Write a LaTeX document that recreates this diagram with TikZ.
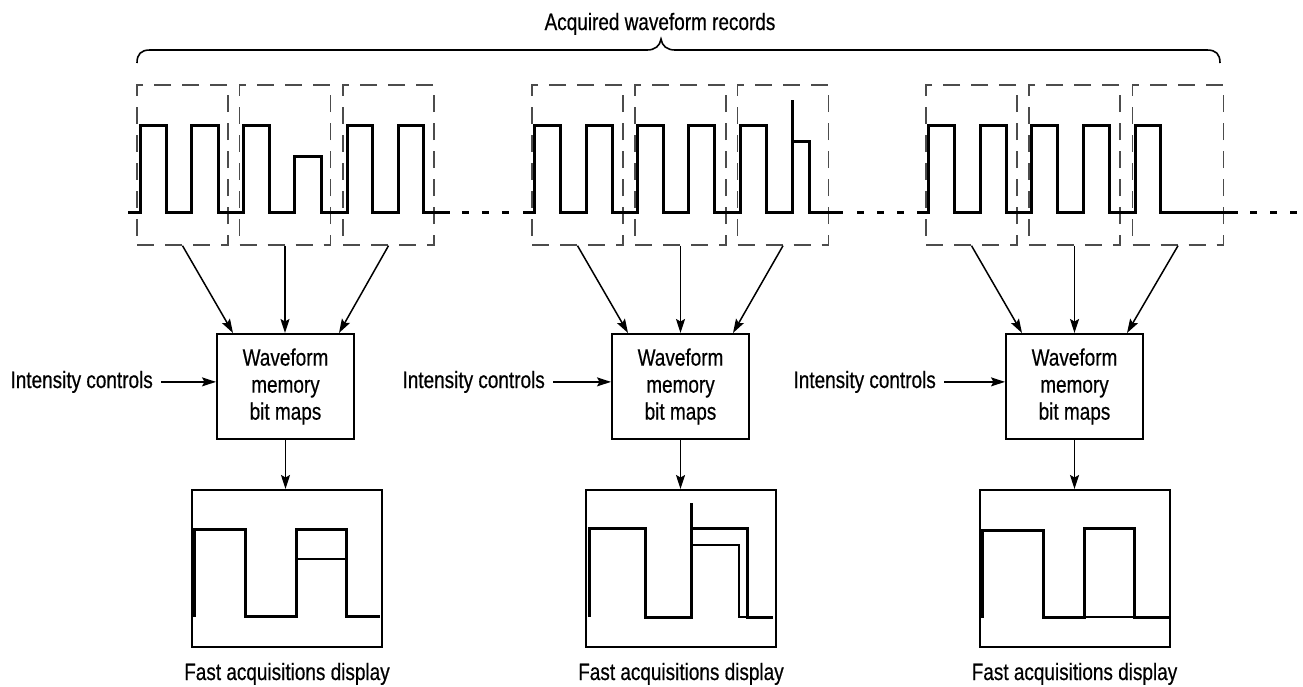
\documentclass[tikz,border=0pt]{standalone}
\usepackage{fontspec}
\setmainfont{Liberation Sans}[FakeStretch=0.8,FakeBold=0.5]
\usetikzlibrary{arrows.meta,calc}
\begin{document}
\begin{tikzpicture}[x=1pt,y=-1pt,
  every node/.style={font=\fontsize{23.7}{27}\selectfont},
  rec/.style={draw=black!70, dash pattern=on 17pt off 11pt, line width=1.4pt, minimum width=91pt, minimum height=160pt, inner sep=0pt},
  mem/.style={draw, line width=2pt, minimum width=137pt, minimum height=105pt, align=center, inner sep=0pt},
  disp/.style={draw, line width=2pt, minimum width=190pt, minimum height=157pt, inner sep=0pt},
  arr/.style={-{Stealth[length=14pt,width=9pt,inset=2.5pt]}, line width=1.5pt},
  wave/.style={line width=3pt, line join=miter},
  thinwave/.style={line width=1.2pt},
  link/.style={line width=3pt, dash pattern=on 7pt off 13pt},
  lbl/.style={anchor=base, inner sep=0pt},
]
\useasboundingbox (0,0) rectangle (1303,686);

% title and brace
\node[lbl] (title) at (660,30) {Acquired waveform records};
\draw[line width=1.6pt] (137,63) .. controls (137,54) and (141,50) .. (150,50) -- (647,50)
  .. controls (655,50) and (660,46) .. (661,39) .. controls (662,46) and (667,50) .. (675,50)
  -- (1207,50) .. controls (1216,50) and (1220,54) .. (1220,63);

% dashed record boxes
\node[rec] (r11) at (182.5,165) {};
\node[rec] (r12) at (285,165) {};
\node[rec] (r13) at (388.5,165) {};
\node[rec] (r21) at (577.5,165) {};
\node[rec] (r22) at (680.5,165) {};
\node[rec] (r23) at (783,165) {};
\node[rec] (r31) at (971.5,165) {};
\node[rec] (r32) at (1074.5,165) {};
\node[rec] (r33) at (1178,165) {};

% acquired waveforms
\draw[wave] (128,212) -- (140,212) |- (166,125) |- (191,212) |- (218,125) |- (243,212) |- (269,125)
  |- (294,212) |- (321,156) |- (347,212) |- (372,125) |- (398,212) |- (423,125) |- (450,212);
\draw[link] (462,212) -- (520,212);
\draw[wave] (523,212) -- (534,212) |- (560,125) |- (586,212) |- (612,125) |- (637,212) |- (663,125)
  |- (688,212) |- (714,125) |- (740,212) |- (766,125) |- (792,212) -- (792,100);
\draw[wave] (792,141) -| (809,212) -- (843,212);
\draw[link] (857,212) -- (916,212);
\draw[wave] (917,212) -- (928,212) |- (954,125) |- (980,212) |- (1006,125) |- (1031,212) |- (1057,125)
  |- (1083,212) |- (1109,125) |- (1135,212) |- (1160,125) |- (1238,212);
\draw[link] (1250,212) -- (1303,212);

% memory boxes
\node[mem] (m1) at (285.5,386.5) {Waveform\\memory\\bit maps};
\node[mem] (m2) at (680.5,386.5) {Waveform\\memory\\bit maps};
\node[mem] (m3) at (1074.5,386.5) {Waveform\\memory\\bit maps};

% arrows records -> memory
\draw[arr] (r11.south) -- ($(m1.north)+(-52.5,0)$);
\draw[arr] (r12.south) -- (r12.south |- m1.north);
\draw[arr] (r13.south) -- ($(m1.north)+(53.5,0)$);
\draw[arr] (r21.south) -- ($(m2.north)+(-52.5,0)$);
\draw[arr] (r22.south) -- (m2.north);
\draw[arr] (r23.south) -- ($(m2.north)+(52.5,0)$);
\draw[arr] (r31.south) -- ($(m3.north)+(-52.5,0)$);
\draw[arr] (r32.south) -- (m3.north);
\draw[arr] (r33.south) -- ($(m3.north)+(52.5,0)$);

% intensity controls
\node[anchor=base east, inner xsep=0pt] (i1) at (153,388) {Intensity controls};
\node[anchor=base east, inner xsep=0pt] (i2) at (545,388) {Intensity controls};
\node[anchor=base east, inner xsep=0pt] (i3) at (936,388) {Intensity controls};
\draw[arr, shorten <=8pt] (i1.east) -- (i1.east -| m1.west);
\draw[arr, shorten <=8pt] (i2.east) -- (i2.east -| m2.west);
\draw[arr, shorten <=8pt] (i3.east) -- (i3.east -| m3.west);

% display boxes
\node[disp] (d1) at (287,568.5) {};
\node[disp] (d2) at (681,568.5) {};
\node[disp] (d3) at (1074.5,568.5) {};
\draw[arr] (m1.south) -- (m1.south |- d1.north);
\draw[arr] (m2.south) -- (m2.south |- d2.north);
\draw[arr] (m3.south) -- (m3.south |- d3.north);

% display traces
\draw[wave] (194,617) -- (194,529) -| (245,616) -| (296,529) -| (346,616) -- (380,616);
\draw[thinwave] (296,559) -- (346,559);
\draw[wave] (589,617) -- (589,528) -| (645,617) -| (691,503);
\draw[wave] (691,528) -| (747,617) -- (773,617);
\draw[thinwave] (691,545) -| (739,617) -- (747,617);
\draw[wave] (982,618) -- (982,530) -| (1043,617) -- (1084,617) -- (1084,528) -| (1134,617) -- (1169,617);
\draw[thinwave] (1084,617) -- (1134,617);

% captions
\node[lbl] (c1) at (287,680) {Fast acquisitions display};
\node[lbl] (c2) at (681,680) {Fast acquisitions display};
\node[lbl] (c3) at (1074.5,680) {Fast acquisitions display};
\end{tikzpicture}
\end{document}
